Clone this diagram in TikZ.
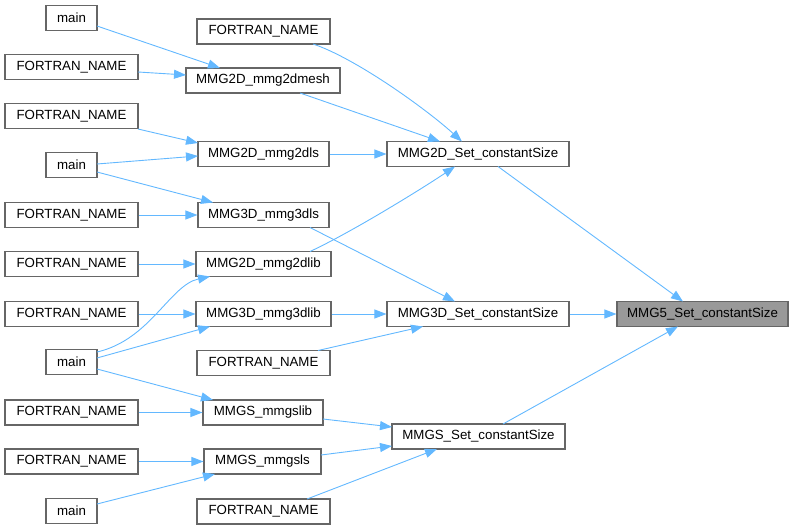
\documentclass[tikz,border=0pt]{standalone}
\usepackage{fontspec}
\setmainfont{Liberation Sans}
\usetikzlibrary{arrows.meta,calc}
\definecolor{edgeblue}{HTML}{63B8FF}
\definecolor{boxgray}{HTML}{666666}
\definecolor{hlgray}{HTML}{999999}
\tikzset{
  fnbox/.style={draw=boxgray, line width=1.1pt, fill=white, inner sep=0pt, minimum height=25pt, font=\fontsize{13.3}{16}\selectfont, text=black},
  hlbox/.style={fnbox, fill=hlgray},
  calledge/.style={draw=edgeblue, line width=0.9pt, -{Triangle[length=12pt,width=9pt]}}
}
\begin{document}
\begin{tikzpicture}[x=1pt,y=-1pt]
\useasboundingbox (0,0) rectangle (793,529);
% column 0
\node[fnbox, minimum width=51pt]  (m1) at (71.5,18) {main};
\node[fnbox, minimum width=133pt] (fa) at (71.5,67) {FORTRAN\_NAME};
\node[fnbox, minimum width=133pt] (fb) at (71.5,116) {FORTRAN\_NAME};
\node[fnbox, minimum width=51pt]  (m2) at (71.5,165) {main};
\node[fnbox, minimum width=133pt] (fc) at (71.5,215) {FORTRAN\_NAME};
\node[fnbox, minimum width=133pt] (fd) at (71.5,264) {FORTRAN\_NAME};
\node[fnbox, minimum width=133pt] (fe) at (71.5,314) {FORTRAN\_NAME};
\node[fnbox, minimum width=51pt]  (m3) at (71.5,362) {main};
\node[fnbox, minimum width=133pt] (ff) at (71.5,412.5) {FORTRAN\_NAME};
\node[fnbox, minimum width=133pt] (fg) at (71.5,461.5) {FORTRAN\_NAME};
\node[fnbox, minimum width=51pt]  (m4) at (71.5,511) {main};
% column 1
\node[fnbox, minimum width=133pt] (f1) at (263.5,31.5) {FORTRAN\_NAME};
\node[fnbox, minimum width=154pt] (mesh) at (263,80.5) {MMG2D\_mmg2dmesh};
\node[fnbox, minimum width=131pt] (dls2) at (263.5,154) {MMG2D\_mmg2dls};
\node[fnbox, minimum width=131pt] (dls3) at (263.5,215) {MMG3D\_mmg3dls};
\node[fnbox, minimum width=135pt] (lib2) at (263.5,264) {MMG2D\_mmg2dlib};
\node[fnbox, minimum width=135pt] (lib3) at (263.5,314) {MMG3D\_mmg3dlib};
\node[fnbox, minimum width=133pt] (f2) at (263.5,363) {FORTRAN\_NAME};
\node[fnbox, minimum width=120pt] (slib) at (263,412.5) {MMGS\_mmgslib};
\node[fnbox, minimum width=117pt] (sls) at (262.5,461.5) {MMGS\_mmgsls};
\node[fnbox, minimum width=133pt] (f3) at (263.5,511.5) {FORTRAN\_NAME};
% column 2
\node[fnbox, minimum width=182pt] (set2) at (478,154) {MMG2D\_Set\_constantSize};
\node[fnbox, minimum width=182pt] (set3) at (478,314) {MMG3D\_Set\_constantSize};
\node[fnbox, minimum width=173pt] (sets) at (478.5,436.5) {MMGS\_Set\_constantSize};
% column 3
\node[hlbox, minimum width=171pt] (set5) at (702.5,314) {MMG5\_Set\_constantSize};
% edges
\draw[calledge] ($(m1)+(25.5,8)$) -- ($(mesh)+(-43,-12.5)$);
\draw[calledge] ($(fa)+(66.5,5)$) -- ($(mesh)+(-77,-5.5)$);
\draw[calledge] ($(f1)+(49.5,12.5)$) .. controls ($(f1)+(91.5,26.5)$) and ($(set2)+(-53,-46)$) .. ($(set2)+(-16,-12.5)$);
\draw[calledge] ($(mesh)+(37,12.5)$) -- ($(set2)+(-38,-12.5)$);
\draw[calledge] ($(fb)+(66.5,13)$) -- ($(dls2)+(-65.5,-11)$);
\draw[calledge] ($(m2)+(25.5,-1)$) -- ($(dls2)+(-65.5,2)$);
\draw[calledge] ($(m2)+(25.5,7)$) -- ($(dls3)+(-50.5,-12.5)$);
\draw[calledge] (dls2.east) -- (set2.west);
\draw[calledge] (fc.east) -- (dls3.west);
\draw[calledge] ($(lib2)+(46.5,-12.5)$) .. controls ($(lib2)+(86.5,-31)$) and ($(set2)+(-58,36)$) .. ($(set2)+(-23,12.5)$);
\draw[calledge] ($(dls3)+(46.5,12.5)$) -- ($(set3)+(-23,-12.5)$);
\draw[calledge] (fd.east) -- (lib2.west);
\draw[calledge] ($(m3)+(25.5,-10)$) .. controls ($(m3)+(78.5,-22)$) and ($(lib2)+(-93.5,21)$) .. ($(lib2)+(-53.5,12.5)$);
\draw[calledge] (fe.east) -- (lib3.west);
\draw[calledge] ($(m3)+(25.5,-4)$) -- ($(lib3)+(-53.5,12.5)$);
\draw[calledge] (lib3.east) -- (set3.west);
\draw[calledge] ($(f2)+(54.5,-12.5)$) -- ($(set3)+(-55,12.5)$);
\draw[calledge] ($(m3)+(25.5,7)$) -- ($(slib)+(-50,-12.5)$);
\draw[calledge] (ff.east) -- (slib.west);
\draw[calledge] ($(slib)+(60,6.5)$) -- ($(sets)+(-86.5,-9.5)$);
\draw[calledge] (fg.east) -- (sls.west);
\draw[calledge] ($(m4)+(25.5,-7)$) -- ($(sls)+(-47.5,12.5)$);
\draw[calledge] ($(sls)+(58.5,-6.5)$) -- ($(sets)+(-86.5,9.5)$);
\draw[calledge] ($(f3)+(43.5,-12.5)$) -- ($(sets)+(-41.5,12.5)$);
\draw[calledge] ($(set2)+(20,12.5)$) -- ($(set5)+(-19.5,-12.5)$);
\draw[calledge] (set3.east) -- (set5.west);
\draw[calledge] ($(sets)+(24.5,-12.5)$) -- ($(set5)+(-24.5,12.5)$);
\end{tikzpicture}
\end{document}
